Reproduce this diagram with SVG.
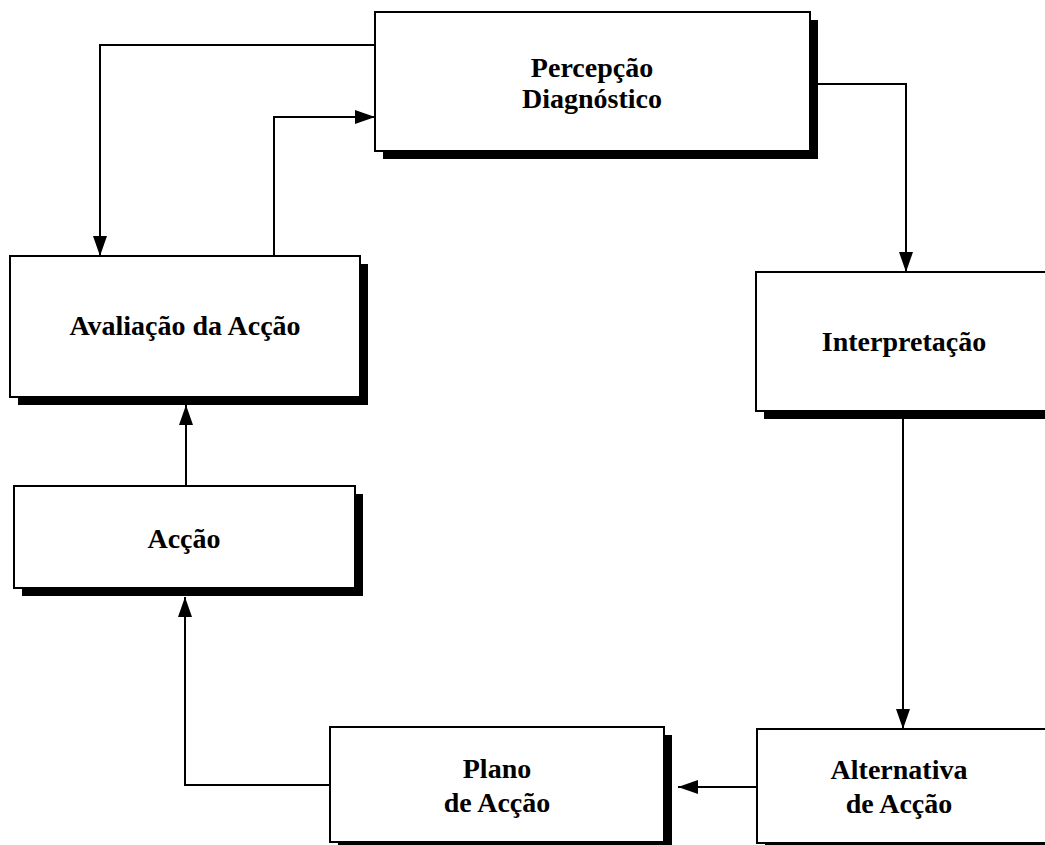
<svg xmlns="http://www.w3.org/2000/svg" width="1045" height="845" viewBox="0 0 1045 845">
  <style>
    .shadow { fill: #000; }
    .box { fill: #fff; stroke: #000; stroke-width: 2; }
    .label { font-family: "Liberation Serif", "Times New Roman", serif; font-weight: bold; font-size: 28px; fill: #000; text-anchor: middle; }
    .link { fill: none; stroke: #000; stroke-width: 2; }
  </style>
  <defs>
    <marker id="arrow" markerUnits="userSpaceOnUse" markerWidth="20" markerHeight="16" refX="20" refY="8" orient="auto">
      <path d="M0,1 L20,8 L0,15 z" fill="#000"/>
    </marker>
  </defs>

  <rect x="0" y="0" width="1045" height="845" fill="#fff"/>

  <!-- connectors -->
  <g id="connectors">
    <polyline class="link" points="375,45 100,45 100,256" marker-end="url(#arrow)"/>
    <polyline class="link" points="274,256 274,117 375,117" marker-end="url(#arrow)"/>
    <polyline class="link" points="810,84 906,84 906,272" marker-end="url(#arrow)"/>
    <polyline class="link" points="903,412 903,729" marker-end="url(#arrow)"/>
    <polyline class="link" points="757,787 678,787" marker-end="url(#arrow)"/>
    <polyline class="link" points="330,785 185,785 185,597" marker-end="url(#arrow)"/>
    <polyline class="link" points="186,486 186,405" marker-end="url(#arrow)"/>
  </g>

  <!-- Percepção / Diagnóstico -->
  <g id="node-percepcao">
    <rect class="shadow" x="383" y="20" width="435" height="139"/>
    <rect class="box" x="375" y="12" width="435" height="139"/>
    <text class="label" x="592" y="77">Percepção</text>
    <text class="label" x="592" y="108">Diagnóstico</text>
  </g>

  <!-- Avaliação da Acção -->
  <g id="node-avaliacao">
    <rect class="shadow" x="18" y="264" width="350" height="141"/>
    <rect class="box" x="10" y="256" width="350" height="141"/>
    <text class="label" x="185" y="335">Avaliação da Acção</text>
  </g>

  <!-- Interpretação -->
  <g id="node-interpretacao">
    <rect class="shadow" x="764" y="280" width="300" height="139"/>
    <rect class="box" x="756" y="272" width="300" height="139"/>
    <text class="label" x="904" y="351">Interpretação</text>
  </g>

  <!-- Acção -->
  <g id="node-accao">
    <rect class="shadow" x="22" y="494" width="341" height="102"/>
    <rect class="box" x="14" y="486" width="341" height="102"/>
    <text class="label" x="184" y="548">Acção</text>
  </g>

  <!-- Plano de Acção -->
  <g id="node-plano">
    <rect class="shadow" x="338" y="735" width="334" height="114"/>
    <rect class="box" x="330" y="727" width="334" height="115"/>
    <text class="label" x="497" y="778">Plano</text>
    <text class="label" x="497" y="812">de Acção</text>
  </g>

  <!-- Alternativa de Acção -->
  <g id="node-alternativa">
    <rect class="shadow" x="765" y="737" width="300" height="114"/>
    <rect class="box" x="757" y="729" width="300" height="114"/>
    <text class="label" x="899" y="779">Alternativa</text>
    <text class="label" x="899" y="813">de Acção</text>
  </g>
</svg>
